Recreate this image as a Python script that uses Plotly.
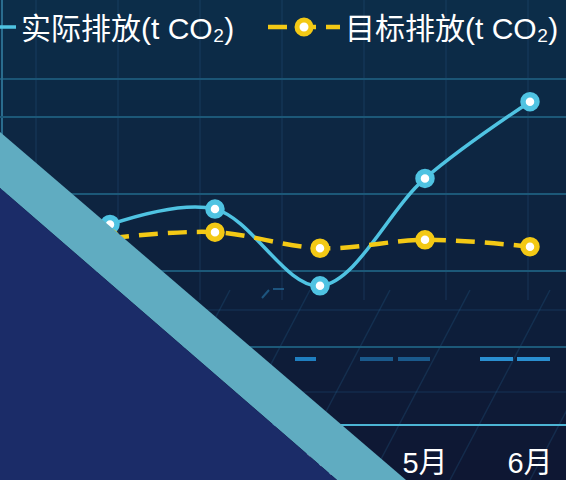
import plotly.graph_objects as go

# ---------------- data ----------------
months = ["2月", "3月", "4月", "5月", "6月"]
actual = [260, 280, 180, 320, 420]
target = [242, 250, 229, 240, 231]
series_names = ["实际排放(t CO₂)", "目标排放(t CO₂)"]

# ---------------- geometry helpers ----------------
W, H = 566, 480
ML, MR, MT, MB = 0, 0, 60, 56
PH = H - MT - MB


def px(x):
    return x / (W - ML - MR)


def py(y):
    return (H - MB - y) / PH


def hexmix(c1, c2, t):
    a = [int(c1[i:i + 2], 16) for i in (1, 3, 5)]
    b = [int(c2[i:i + 2], 16) for i in (1, 3, 5)]
    return "#" + "".join(f"{round(a[k] + (b[k] - a[k]) * t):02x}" for k in range(3))


shapes = []
# vertical gradient background
N = 48
for i in range(N):
    y0 = i * H / N
    y1 = (i + 1) * H / N + 0.5
    shapes.append(dict(type="rect", xref="paper", yref="paper", layer="below",
                       x0=px(-2), x1=px(W + 2), y0=py(y1), y1=py(y0),
                       fillcolor=hexmix("#0c2d49", "#0e1733", i / (N - 1)),
                       line=dict(width=0)))

# faint vertical background lines
for xv in [36, 118, 200, 282, 364, 446, 528]:
    shapes.append(dict(type="line", xref="paper", yref="paper", layer="below",
                       x0=px(xv), x1=px(xv), y0=py(0), y1=py(300),
                       line=dict(color="rgba(45,95,140,0.17)", width=2)))
# faint horizontal decorative lines
for yv in [310, 392]:
    shapes.append(dict(type="line", xref="paper", yref="paper", layer="below",
                       x0=px(0), x1=px(W), y0=py(yv), y1=py(yv),
                       line=dict(color="rgba(45,110,160,0.20)", width=1.5)))
# perspective diagonal lines
for x0 in [230, 310, 390, 470, 550, 630]:
    shapes.append(dict(type="line", xref="paper", yref="paper", layer="below",
                       x0=px(x0), x1=px(x0 - 100), y0=py(290), y1=py(480),
                       line=dict(color="rgba(45,120,170,0.20)", width=1.5)))
# extra decorative horizontal line
shapes.append(dict(type="line", xref="paper", yref="paper", layer="below",
                   x0=px(0), x1=px(W), y0=py(79), y1=py(79),
                   line=dict(color="#1b5576", width=2)))
# left border line
shapes.append(dict(type="line", xref="paper", yref="paper", layer="below",
                   x0=px(2), x1=px(2), y0=py(0), y1=py(200),
                   line=dict(color="#2a6c8e", width=2)))
# small decorative mark
shapes.append(dict(type="path", xref="paper", yref="paper", layer="below",
                   path=f"M{px(262)},{py(298)} L{px(269)},{py(290)} M{px(273)},{py(289)} L{px(284)},{py(289)}",
                   line=dict(color="rgba(40,120,170,0.6)", width=2)))
# dashed bar segments
for xa, xb, col in [(295, 316, "#1f7fc0"), (360, 393, "#1a5a8c"), (398, 430, "#1a5a8c"),
                    (480, 513, "#2a8fd0"), (517, 550, "#2a8fd0")]:
    shapes.append(dict(type="line", xref="paper", yref="paper", layer="below",
                       x0=px(xa), x1=px(xb), y0=py(359), y1=py(359),
                       line=dict(color=col, width=4)))

# overlay: teal band and navy triangle
band = f"M{px(0)},{py(132)} L{px(406)},{py(480)} L{px(337)},{py(480)} L{px(0)},{py(188)} Z"
shapes.append(dict(type="path", xref="paper", yref="paper", layer="above",
                   path=band, fillcolor="#60acc1", line=dict(width=0)))
tri = f"M{px(0)},{py(188)} L{px(337)},{py(480)} L{px(-2)},{py(482)} Z"
shapes.append(dict(type="path", xref="paper", yref="paper", layer="above",
                   path=tri, fillcolor="#1b2c68", line=dict(width=0)))

FONT = "Liberation Sans, Noto Sans CJK SC, sans-serif"

fig = go.Figure()
fig.add_trace(go.Scatter(
    x=months, y=actual, name=series_names[0], mode="lines+markers",
    line=dict(color="#4fc3e2", width=3.5, shape="spline", smoothing=1),
    marker=dict(size=14, color="white", line=dict(color="#4fc3e2", width=5.5)),
    cliponaxis=False, legend="legend",
))
fig.add_trace(go.Scatter(
    x=months, y=target, name=series_names[1], mode="lines+markers",
    line=dict(color="#f3c915", width=4.5, shape="spline", smoothing=1, dash="19px,10px"),
    marker=dict(size=14, color="white", line=dict(color="#f3c915", width=5.5)),
    cliponaxis=False, legend="legend2",
))

leg_common = dict(orientation="h", yanchor="middle", xanchor="left",
                  font=dict(family=FONT, size=30, color="white"),
                  bgcolor="rgba(0,0,0,0)", itemwidth=72,
                  itemclick=False, itemdoubleclick=False)

fig.update_layout(
    width=W, height=H,
    margin=dict(l=ML, r=MR, t=MT, b=MB, pad=0, autoexpand=False),
    paper_bgcolor="#0e1f3d",
    plot_bgcolor="rgba(0,0,0,0)",
    shapes=shapes,
    showlegend=True,
    legend=dict(x=px(-61), y=py(27), **leg_common),
    legend2=dict(x=px(263), y=py(27), **leg_common),
    xaxis=dict(type="category", categoryorder="array", categoryarray=months,
               range=[-1.0476, 4.343], showgrid=False, zeroline=False,
               showline=True, linecolor="#4cb4d4", linewidth=2,
               ticks="", ticklabelstandoff=12,
               tickfont=dict(family=FONT, size=29, color="white")),
    yaxis=dict(range=[0, 474.3], tick0=0, dtick=100, showgrid=True,
               gridcolor="#1c5878", gridwidth=2, zeroline=False,
               showticklabels=False, showline=False),
    hovermode=False,
)

fig.write_html("out.html", config={"displayModeBar": False, "staticPlot": False},
               post_script="document.body.style.margin='0';document.body.style.overflow='hidden';")
